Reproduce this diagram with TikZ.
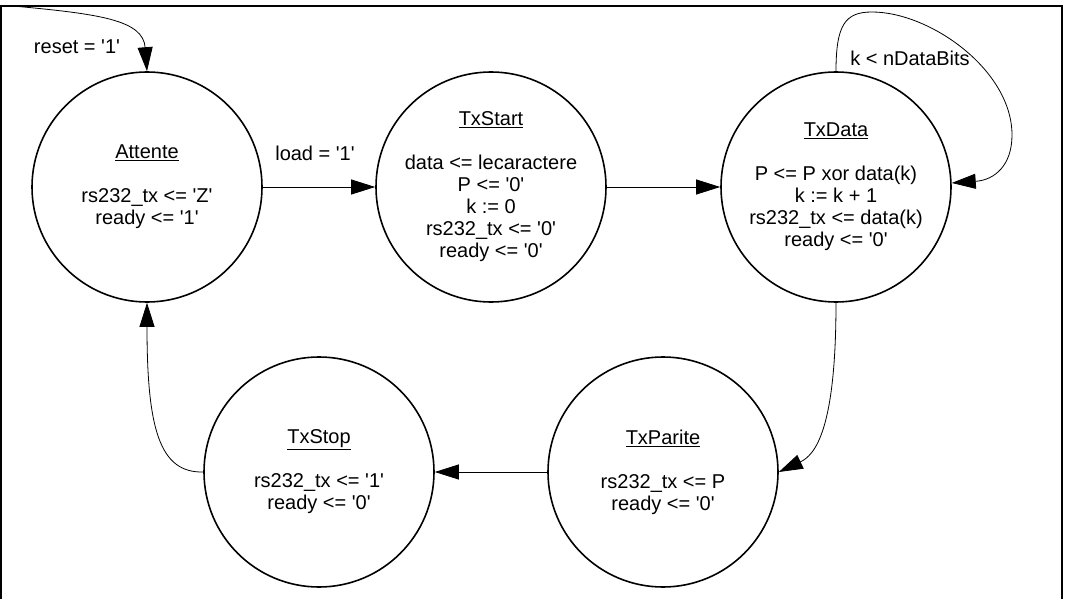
\documentclass[tikz,border=0pt]{standalone}
\usepackage{fontspec}
\setmainfont{Liberation Sans}
\usetikzlibrary{arrows.meta}
\newcommand\sq{\textquotesingle}
\begin{document}
\begin{tikzpicture}[x=1pt,y=-1pt,
  state/.style={circle,draw,line width=1.6pt,minimum size=230pt,inner sep=0pt,align=center,font=\fontsize{20}{22}\selectfont},
  trans/.style={line width=0.8pt,-{Triangle[length=24pt,width=15pt]}},
  lbl/.style={font=\fontsize{20}{22}\selectfont,inner sep=0pt}]
\useasboundingbox (0,0) rectangle (1066,599);
% frame
\draw[line width=2pt] (1,600) -- (1,6) -- (1062,6) -- (1062,600);
% states
\node[state] (Attente) at (147,187) {\underline{Attente}\\[22pt]rs232\_tx <= \sq Z\sq\\ready <= \sq 1\sq};
\node[state] (TxStart) at (491,187) {\underline{TxStart}\\[22pt]data <= lecaractere\\P <= \sq 0\sq\\k := 0\\rs232\_tx <= \sq 0\sq\\ready <= \sq 0\sq};
\node[state] (TxData) at (836,187) {\underline{TxData}\\[22pt]P <= P xor data(k)\\k := k + 1\\rs232\_tx <= data(k)\\ready <= \sq 0\sq};
\node[state] (TxParite) at (663,472) {\underline{TxParite}\\[22pt]rs232\_tx <= P\\ready <= \sq 0\sq};
\node[state] (TxStop) at (319,472) {\underline{TxStop}\\[22pt]rs232\_tx <= \sq 1\sq\\ready <= \sq 0\sq};
% reset
\coordinate (rst) at (13,6);
\draw[trans] (rst) .. controls (100,14) and (143,20) .. (Attente.north);
\node[lbl] (lreset) at (77,47) {reset = \sq 1\sq};
% transitions
\draw[trans] (Attente.east) -- (TxStart.west);
\node[lbl] (lload) at (315,153) {load = \sq 1\sq};
\draw[trans] (TxStart.east) -- (TxData.west);
\draw[trans] (TxData.north) .. controls (836,25) and (845,12) .. (872,12)
  .. controls (930,12) and (1012,70) .. (1012,135)
  .. controls (1012,165) and (995,180) .. (TxData.2);
\node[lbl] (lk) at (910,58) {k < nDataBits};
\draw[trans] (TxData.south) .. controls (836,430) and (815,455) .. (TxParite.east);
\draw[trans] (TxParite.west) -- (TxStop.east);
\draw[trans] (TxStop.west) .. controls (160,473) and (147,430) .. (Attente.south);
\end{tikzpicture}
\end{document}
